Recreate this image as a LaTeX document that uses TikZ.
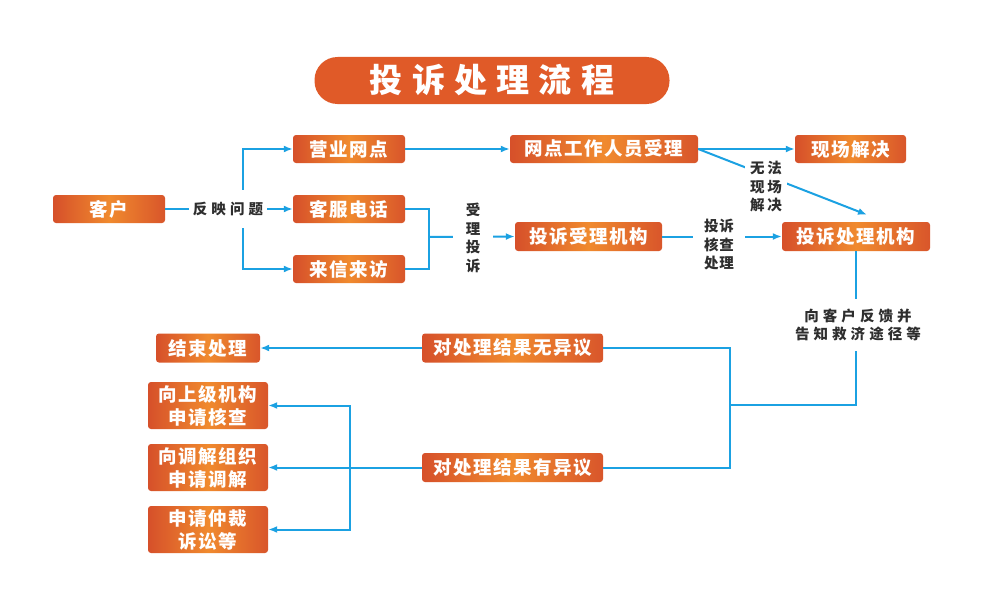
\documentclass[tikz,border=0pt]{standalone}
\usepackage{fontspec}
\usetikzlibrary{arrows.meta,calc}
\newfontfamily\boxfont[LetterSpace=8]{Noto Sans CJK SC}
\newfontfamily\labfont[LetterSpace=28]{Noto Sans CJK SC}
\newfontfamily\titlefont[LetterSpace=28]{Noto Sans CJK SC}
\definecolor{oD}{HTML}{D6502A}
\definecolor{oL}{HTML}{F08A2E}
\definecolor{tC}{HTML}{E05A28}
\definecolor{bl}{HTML}{1BA1E2}
\definecolor{labc}{HTML}{2E2E2E}
\tikzset{
  box/.style={shade, left color=oD, right color=oD!90!oL, middle color=oL,
    rounded corners=3pt, text=white, inner sep=0pt, align=center,
    minimum height=28pt, font=\boxfont\bfseries\fontsize{18.5}{23}\selectfont},
  lab/.style={text=labc, fill=white, inner sep=0pt, align=center,
    font=\labfont\bfseries\fontsize{14.5}{18.5}\selectfont},
  ln/.style={draw=bl, line width=2pt},
  arr/.style={ln, -{Latex[length=9pt,width=7pt]}}
}
\begin{document}
\begin{tikzpicture}[x=1pt,y=-1pt]
\fill[white] (0,0) rectangle (984,610);
\useasboundingbox (0,0) rectangle (984,610);
% title
\node[fill=tC, rounded corners=23pt, minimum width=355pt, minimum height=47pt,
  text=white, inner sep=0pt, font=\titlefont\bfseries\fontsize{33}{38}\selectfont]
  (title) at (492,80.5) {投诉处理流程};
% boxes
\node[box, minimum width=112pt] (kehu) at (109,209) {客户};
\node[box, minimum width=112pt] (yingye) at (349,149) {营业网点};
\node[box, minimum width=112pt] (kefu) at (349,209) {客服电话};
\node[box, minimum width=112pt] (laixin) at (349,269) {来信来访};
\node[box, minimum width=188pt] (wangdian) at (604,149) {网点工作人员受理};
\node[box, minimum width=111pt] (xianchang) at (850.5,149) {现场解决};
\node[box, minimum width=147pt, minimum height=29pt] (shouli) at (588.5,236.5) {投诉受理机构};
\node[box, minimum width=148pt, minimum height=29pt] (chuli) at (856,236.5) {投诉处理机构};
\node[box, minimum width=104pt, minimum height=29pt] (jieshu) at (208,348) {结束处理};
\node[box, minimum width=181pt, minimum height=29pt] (wuyiyi) at (512.5,348) {对处理结果无异议};
\node[box, minimum width=181pt, minimum height=29pt] (youyiyi) at (512.5,467.5) {对处理结果有异议};
\node[box, minimum width=120pt, minimum height=47pt] (shangji) at (208,405.5) {向上级机构\\申请核查};
\node[box, minimum width=120pt, minimum height=47pt] (tiaojie) at (208,467.5) {向调解组织\\申请调解};
\node[box, minimum width=120pt, minimum height=47pt] (zhongcai) at (208,529.5) {申请仲裁\\诉讼等};
% coordinates
\coordinate (br) at (243,209);
\coordinate (m1) at (429,237);
\coordinate (j) at (730,405);
\coordinate (k) at (350,467.5);
% connectors
\draw[arr] (kehu.east) -- (kefu.west);
\draw[arr] (br) |- (yingye.west);
\draw[arr] (br) |- (laixin.west);
\draw[ln] (kefu.east) -| (m1) |- (laixin.east);
\draw[arr] (m1) -- (shouli.west);
\draw[arr] (yingye.east) -- (wangdian.west);
\draw[arr] (wangdian.east) -- (xianchang.west);
\draw[arr] (wangdian.east) -- ([xshift=11pt,yshift=7pt]chuli.north);
\draw[arr] (shouli.east) -- (chuli.west);
\draw[ln] (chuli.south) |- (j);
\draw[ln] (wuyiyi.east) -| (j) |- (youyiyi.east);
\draw[arr] (wuyiyi.west) -- (jieshu.east);
\draw[ln] (youyiyi.west) -- (k);
\draw[arr] (k) |- (shangji.east);
\draw[arr] (k) -- (tiaojie.east);
\draw[arr] (k) |- (zhongcai.east);
% labels
\node[lab, inner xsep=4pt, inner ysep=12pt] (fanying) at (228,209) {反映问题};
\node[lab, inner xsep=13pt, inner ysep=3pt] (slts) at (473,238) {受\\理\\投\\诉};
\node[lab, inner xsep=5pt, inner ysep=2pt] (wufa) at (766,187) {无\hspace{3pt}法\\现\hspace{3pt}场\\解\hspace{3pt}决};
\node[lab, inner xsep=11pt, inner ysep=2pt] (hecha) at (719,245) {投\hspace{1pt}诉\\核\hspace{1pt}查\\处\hspace{1pt}理};
\node[lab, inner xsep=4pt, inner ysep=10pt] (fankui) at (858,325) {向客户反馈并\\告知救济途径等};
\end{tikzpicture}
\end{document}
